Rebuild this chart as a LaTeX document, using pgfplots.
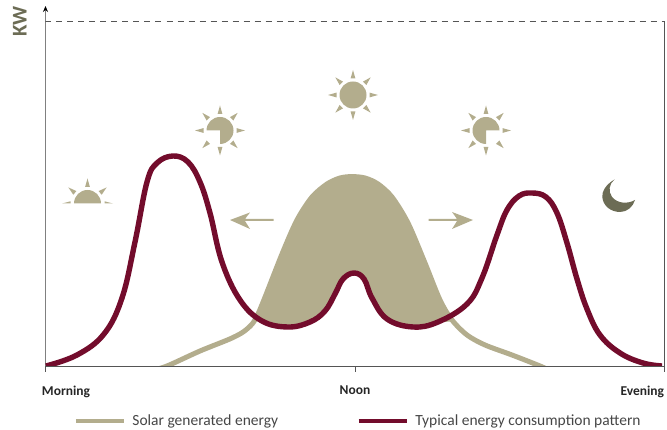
\documentclass[border=0pt]{standalone}
\usepackage{fontspec}
\setmainfont{Carlito}
\usepackage{pgfplots}
\pgfplotsset{compat=1.18}
\usetikzlibrary{arrows.meta}
\definecolor{solar}{RGB}{179,173,141}
\definecolor{load}{RGB}{115,12,44}
\definecolor{moon}{RGB}{108,108,85}
\definecolor{axisgray}{RGB}{85,85,85}
\definecolor{legendtext}{RGB}{70,70,70}

% sun rays, numbers are image pixels
\newcommand{\ray}[3]{%
  \fill[solar,shift={(#1,#2)},rotate=#3] (16.5,-2.4) -- (25,0) -- (16.5,2.4) -- cycle;}
\newcommand{\rays}[2]{%
  \foreach \a in {0,45,...,315} {\ray{#1}{#2}{\a}}}

\begin{document}
\begin{tikzpicture}
\path[use as bounding box] (-45.5pt,-64pt) rectangle (621.5pt,366pt);

\begin{axis}[
at={(0pt,0pt)},
anchor=south west,
scale only axis,
width=619.5pt,
height=360pt,
xmin=45.5,
xmax=665,
ymin=0,
ymax=360,
axis x line=bottom,
axis y line=left,
x axis line style={-,axisgray,line width=0.8pt},
y axis line style={-{Stealth[black,length=6pt,width=5pt]},gray,line width=1.2pt},
ytick=\empty,
xtick={45.5,355,664},
xticklabels={\makebox[0pt][l]{\hspace{-3.5pt}Morning},Noon,\makebox[0pt][r]{Evening}},
major tick length=6pt,
tick align=outside,
xtick style={axisgray,line width=0.8pt},
xticklabel style={font=\fontsize{13.5}{15}\selectfont\bfseries,text=black!85,yshift=-10.5pt},
ylabel={KW},
every axis y label/.style={at={(axis description cs:-0.0415,0.9575)},rotate=90,anchor=center},
ylabel style={font=\fontsize{21}{23}\selectfont\bfseries,text=moon},
legend columns=2,
legend style={at={(axis cs:74,-55)},anchor=west,draw=none,fill=none,inner sep=0pt,
  font=\fontsize{15.5}{17}\selectfont,text=legendtext,
  /tikz/every odd column/.append style={column sep=5pt},
  /tikz/every even column/.append style={column sep=77pt}},
legend cell align=left,
legend image code/.code={\draw[#1,line width=3.2pt] (0pt,0pt) -- (48pt,0pt);},
]

\addlegendimage{solar}
\addlegendentry{Solar generated energy}
\addlegendimage{load}
\addlegendentry{Typical energy consumption pattern}

% dashed peak level and right edge
\addplot[forget plot,axisgray,line width=0.7pt,dash pattern=on 6pt off 5pt] coordinates {(45.5,344.5)(664,344.5)};
\addplot[forget plot,axisgray,line width=0.8pt] coordinates {(664,0)(664,344.5)};

% area where solar exceeds consumption
\addplot[forget plot,fill=solar,draw=none,smooth] coordinates {
(258,50)(282,112)(297,146)(312,169)(327,182)(340,188)(352,189.4)(365,188)(378,182)(392,169)(408,143)(425,103)(440,66)(452,46)
(438,44)(413,39)(387,47)(372,68)(364,87)(354,93)(343,87)(335,72)(325,55)(310,44)(288,39)(266,42)
};

% solar generation
\addplot[forget plot,solar,line width=5pt,smooth] coordinates {
(150,-5)(167,0)(200,15)(232,28)(247,37)(258,52)(282,112)(297,146)(312,169)(327,182)(340,188)(352,189.4)(365,188)(378,182)(392,169)(408,143)(425,103)(440,66)(452,46)(467,31)(485,21)(512,11)(540,0)(555,-7)
};

% consumption
\addplot[forget plot,load,line width=5.4pt,smooth,tension=0.65] coordinates {
(46,0)(77,11)(104,32)(122,68)(135,124)(147,184)(157,203)(173,210)(188,204)(200,184)(210,153)(222,104)(240,66)(262,45)(288,39)(310,44)(325,55)(335,72)(343,87)(354,93)(364,87)(372,68)(387,47)(413,39)(438,44)(467,62)(482,88)(497,131)(507,156)(519,170)(532,173)(546,169)(557,153)(567,123)(577,87)(587,57)(600,31)(620,13)(643,3)(662,0)
};

\end{axis}

% icons, in image pixels
\begin{scope}[shift={(-45.5pt,366pt)},x=1pt,y=-1pt]
% noon sun
\rays{353}{95}
\fill[solar] (353,95) circle (13.5pt);
% morning sun, quarter missing lower left
\rays{220}{130.5}
\fill[solar] (220,130.5) -- (206.5,130.5) arc[start angle=180,delta angle=-270,radius=13.5pt] -- cycle;
% afternoon sun, quarter missing lower right
\rays{486}{130.5}
\fill[solar] (486,130.5) -- (486,144) arc[start angle=-90,delta angle=-270,radius=13.5pt] -- cycle;
% sunrise
\fill[solar] (74,203.5) arc[start angle=180,delta angle=-180,radius=13.5pt] -- cycle;
\foreach \a in {40,90,140} {\ray{87.5}{203.5}{\a}}
\fill[solar] (62,203.5) -- (70.5,201.3) -- (70.5,203.5) -- cycle;
\fill[solar] (113,203.5) -- (104.5,201.3) -- (104.5,203.5) -- cycle;
% moon
\fill[moon] (614.5,179.5) .. controls (605,185) and (602,192) .. (602.3,197)
  .. controls (603,206) and (611,212) .. (620,212)
  .. controls (627,212) and (633,207) .. (635,200)
  .. controls (628,204) and (618,204) .. (612,197)
  .. controls (608,191) and (609,184) .. cycle;
% direction arrows
\fill[solar] (230,220) -- (250,212.5) -- (245,219) -- (273.5,219) -- (273.5,221) -- (245,221) -- (250,229) -- cycle;
\fill[solar] (473,220) -- (452,212) -- (457,219) -- (428.5,219) -- (428.5,221) -- (457,221) -- (452,229) -- cycle;
\end{scope}
\end{tikzpicture}
\end{document}
